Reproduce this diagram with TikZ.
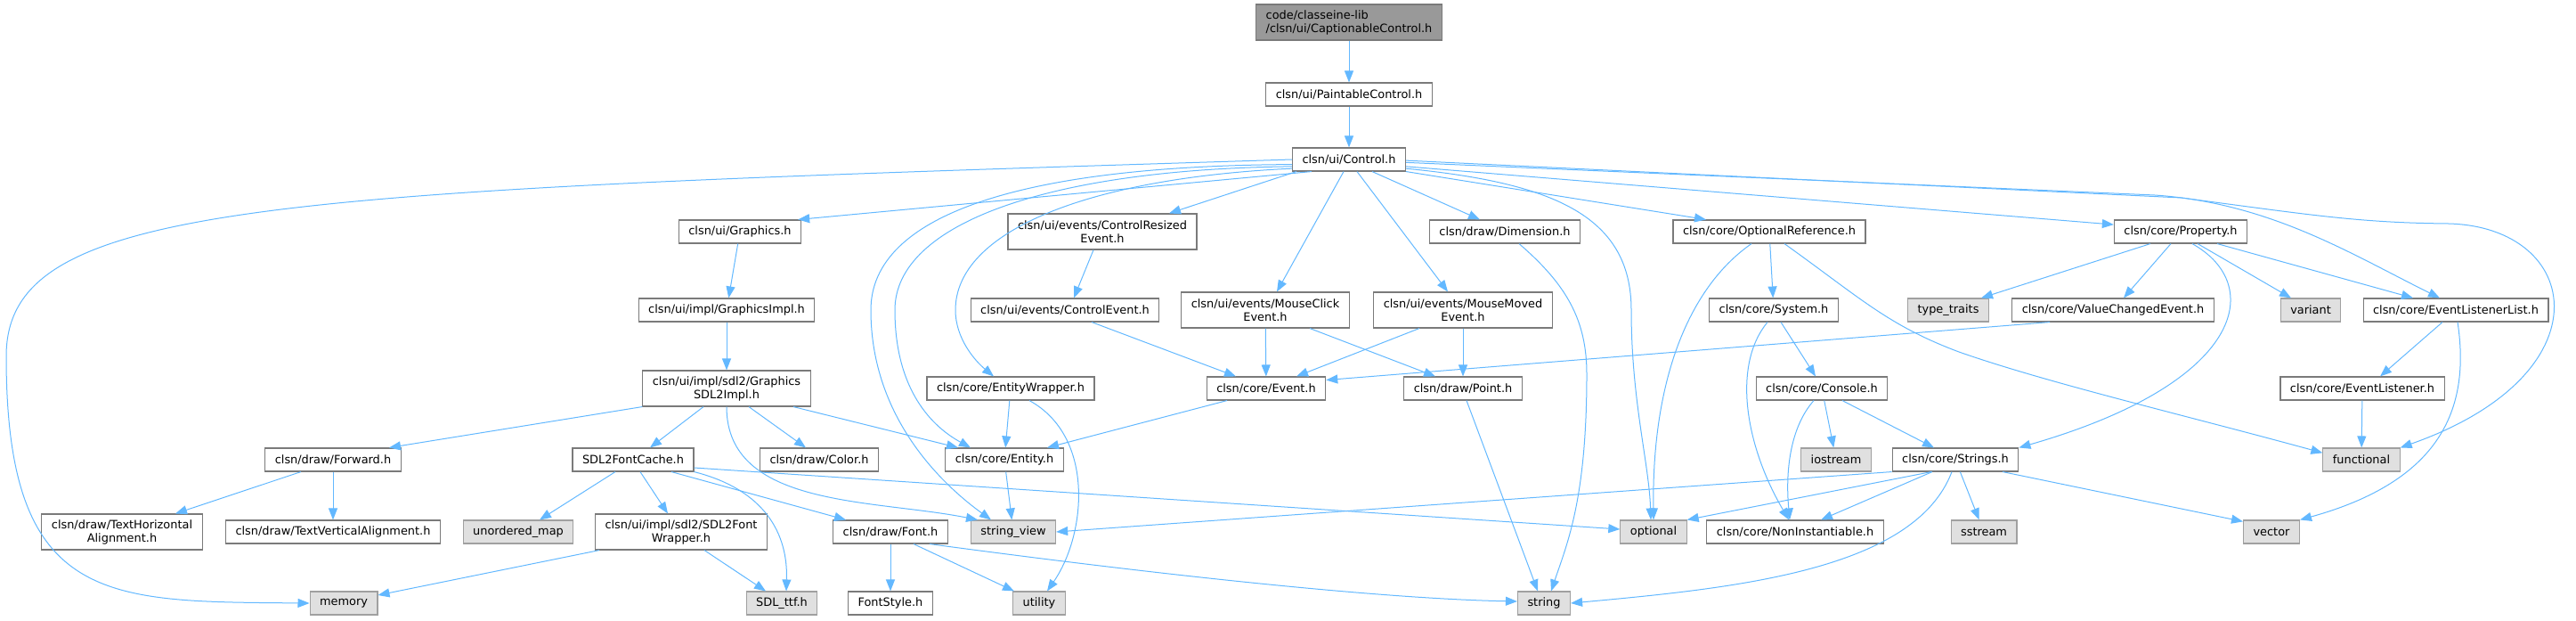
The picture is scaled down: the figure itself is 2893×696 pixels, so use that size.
\documentclass[tikz,border=0pt]{standalone}
\usepackage{fontspec}
\setmainfont{DejaVu Sans}
\usetikzlibrary{arrows.meta}
\definecolor{edgeblue}{HTML}{63B8FF}
\definecolor{boxline}{HTML}{7A7A7A}
\definecolor{extline}{HTML}{A0A0A0}
\definecolor{extfill}{HTML}{E0E0E0}
\definecolor{rootfill}{HTML}{999999}
\begin{document}
\begin{tikzpicture}[x=1pt, y=-1pt,
    hdr/.style={draw=boxline, fill=white, line width=1.1pt, font=\fontsize{12.9}{15}\selectfont,
        inner xsep=11pt, inner ysep=2pt, minimum height=26pt, align=center},
    hdr2/.style={hdr, minimum height=40pt},
    sys/.style={hdr, draw=extline, fill=extfill},
    rootbox/.style={hdr2, fill=rootfill, align=left},
    dep/.style={draw=edgeblue, line width=1pt, -{Triangle[length=13pt,width=10pt]}}]
    \useasboundingbox (0,0) rectangle (2893,696);

    % Draw Headers (top rows)
    \node[rootbox] (root) at (1515,25) {code/classeine-lib\\/clsn/ui/CaptionableControl.h};
    \node[hdr] (paint) at (1515,106) {clsn/ui/PaintableControl.h};
    \node[hdr] (ctrl) at (1515,179) {clsn/ui/Control.h};

    \node[hdr] (gfx) at (831,260) {clsn/ui/Graphics.h};
    \node[hdr2] (resized) at (1238,260) {clsn/ui/events/ControlResized\\Event.h};
    \node[hdr] (dim) at (1690,260) {clsn/draw/Dimension.h};
    \node[hdr] (optref) at (1987,260) {clsn/core/OptionalReference.h};
    \node[hdr] (prop) at (2449,260) {clsn/core/Property.h};

    \node[hdr] (gimpl) at (816,348) {clsn/ui/impl/GraphicsImpl.h};
    \node[hdr] (ctrlev) at (1196,348) {clsn/ui/events/ControlEvent.h};
    \node[hdr2] (click) at (1421,348) {clsn/ui/events/MouseClick\\Event.h};
    \node[hdr2] (moved) at (1643,348) {clsn/ui/events/MouseMoved\\Event.h};
    \node[hdr] (system) at (1992,348) {clsn/core/System.h};
    \node[sys] (typetr) at (2188,348) {type\_traits};
    \node[hdr] (valch) at (2373,348) {clsn/core/ValueChangedEvent.h};
    \node[sys] (variant) at (2595,348) {variant};
    \node[hdr] (evlist) at (2758,348) {clsn/core/EventListenerList.h};

    \node[hdr2] (sdlimpl) at (816,436) {clsn/ui/impl/sdl2/Graphics\\SDL2Impl.h};
    \node[hdr] (entwrap) at (1135,436) {clsn/core/EntityWrapper.h};
    \node[hdr] (event) at (1422,436) {clsn/core/Event.h};
    \node[hdr] (point) at (1643,436) {clsn/draw/Point.h};
    \node[hdr] (console) at (2046,436) {clsn/core/Console.h};
    \node[hdr] (evlisten) at (2653,436) {clsn/core/EventListener.h};

    % Draw Headers (bottom rows)
    \node[hdr] (fwd) at (374,516) {clsn/draw/Forward.h};
    \node[hdr] (fcache) at (711,516) {SDL2FontCache.h};
    \node[hdr] (color) at (920,516) {clsn/draw/Color.h};
    \node[hdr] (entity) at (1128,516) {clsn/core/Entity.h};
    \node[sys] (iostream) at (2062,516) {iostream};
    \node[hdr] (strings) at (2196,516) {clsn/core/Strings.h};
    \node[sys] (functional) at (2652,516) {functional};

    \node[hdr2] (halign) at (137,597) {clsn/draw/TextHorizontal\\Alignment.h};
    \node[hdr] (valign) at (374,597) {clsn/draw/TextVerticalAlignment.h};
    \node[sys] (umap) at (582,597) {unordered\_map};
    \node[hdr2] (fwrap) at (765,597) {clsn/ui/impl/sdl2/SDL2Font\\Wrapper.h};
    \node[hdr] (font) at (1000,597) {clsn/draw/Font.h};
    \node[sys] (strview) at (1138,597) {string\_view};
    \node[sys] (optional) at (1857,597) {optional};
    \node[hdr] (noninst) at (2016,597) {clsn/core/NonInstantiable.h};
    \node[sys] (sstream) at (2228,597) {sstream};
    \node[sys] (vector) at (2551,597) {vector};

    \node[sys] (memory) at (386,677) {memory};
    \node[sys] (sdlttf) at (878,677) {SDL\_ttf.h};
    \node[hdr] (fstyle) at (1000,677) {FontStyle.h};
    \node[sys] (utility) at (1167,677) {utility};
    \node[sys] (string) at (1734,677) {string};

    % Draw Control includes
    \draw[dep] (root) -- (paint);
    \draw[dep] (paint) -- (ctrl);
    \draw[dep] ([xshift=22pt]ctrl.south west) -- ([xshift=-4pt]gfx.north east);
    \draw[dep] ([xshift=5pt]ctrl.south west) -- ([xshift=75pt]resized.north);
    \draw[dep] ([xshift=-6pt]ctrl.south) -- ([xshift=13pt]click.north);
    \draw[dep] ([xshift=9pt]ctrl.south) -- ([xshift=-17pt]moved.north);
    \draw[dep] ([xshift=26pt]ctrl.south) -- ([xshift=-28pt]dim.north);
    \draw[dep] (ctrl.south east) -- ([xshift=-71pt]optref.north);
    \draw[dep] (ctrl.-7) -- (prop.174);
    \draw[dep] (ctrl.-3) -- (2420,219) .. controls (2550,228) and (2640,285) .. ([xshift=-18pt]evlist.north);
    \draw[dep] (ctrl.-1) -- (2450,222) .. controls (2600,242) and (2650,250) .. (2750,251)
        .. controls (2900,255) and (2930,420) .. (functional.north east);
    \draw[dep] (ctrl.-9) .. controls (1740,205) and (1832,240) .. (1832,348)
        .. controls (1832,450) and (1852,520) .. ([xshift=-3pt]optional.north);
    \draw[dep] (ctrl.west) .. controls (300,215) and (7,225) .. (7,400)
        .. controls (7,680) and (120,675) .. (memory.west);
    \draw[dep] (ctrl.185) .. controls (1150,186) and (978,240) .. (978,348)
        .. controls (978,470) and (1060,545) .. ([xshift=-25pt]strview.north);
    \draw[dep] (ctrl.187) .. controls (1180,190) and (1005,250) .. (1005,348)
        .. controls (1005,430) and (1040,475) .. ([xshift=-38pt]entity.north);
    \draw[dep] (ctrl.189) .. controls (1220,200) and (1073,260) .. (1073,348)
        .. controls (1073,380) and (1095,405) .. ([xshift=-19pt]entwrap.north);

    % Draw Graphics chain
    \draw[dep] (gfx) -- (gimpl);
    \draw[dep] (gimpl) -- (sdlimpl);
    \draw[dep] (sdlimpl.south west) -- ([xshift=63pt]fwd.north);
    \draw[dep] ([xshift=-26pt]sdlimpl.south) -- ([xshift=19pt]fcache.north);
    \draw[dep] ([xshift=25pt]sdlimpl.south) -- ([xshift=-15pt]color.north);
    \draw[dep] ([xshift=75pt]sdlimpl.south) -- ([xshift=-52pt]entity.north);
    \draw[dep] (sdlimpl.south) .. controls (816,570) and (980,560) .. ([xshift=-40pt]strview.north);
    \draw[dep] ([xshift=-36pt]fwd.south) -- ([xshift=60pt]halign.north);
    \draw[dep] (fwd) -- (valign);
    \draw[dep] ([xshift=-20pt]fcache.south) -- ([xshift=24pt]umap.north);
    \draw[dep] ([xshift=8pt]fcache.south) -- ([xshift=-15pt]fwrap.north);
    \draw[dep] ([xshift=43pt]fcache.south) -- ([xshift=-50pt]font.north);
    \draw[dep] (fcache.south east) .. controls (860,550) and (885,600) .. ([xshift=5pt]sdlttf.north);
    \draw[dep] ([yshift=-9pt]fcache.east) -- ([yshift=3pt]optional.west);
    \draw[dep] ([xshift=-92pt]fwrap.south) -- ([yshift=9pt]memory.east);
    \draw[dep] ([xshift=26pt]fwrap.south) -- ([xshift=-18pt]sdlttf.north);
    \draw[dep] (font) -- (fstyle);
    \draw[dep] ([xshift=26pt]font.south) -- ([xshift=-28pt]utility.north);
    \draw[dep] ([xshift=44pt]font.south) .. controls (1300,645) and (1550,672) .. ([yshift=2pt]string.west);

    % Draw Event chain
    \draw[dep] ([xshift=-10pt]resized.south) -- ([xshift=10pt]ctrlev.north);
    \draw[dep] ([xshift=30pt]ctrlev.south) -- ([xshift=-34pt]event.north);
    \draw[dep] (click) -- (event);
    \draw[dep] ([xshift=50pt]click.south) -- ([xshift=-31pt]point.north);
    \draw[dep] ([xshift=-49pt]moved.south) -- ([xshift=34pt]event.north);
    \draw[dep] (moved) -- (point);
    \draw[dep] ([xshift=-44pt]event.south) -- ([xshift=48pt]entity.north);
    \draw[dep] (entwrap) -- (entity);
    \draw[dep] ([xshift=21pt]entwrap.south) .. controls (1230,490) and (1220,600) .. ([xshift=9pt]utility.north);
    \draw[dep] (entity) -- (strview);
    \draw[dep] ([xshift=16pt]dim.south) .. controls (1760,320) and (1782,360) .. (1782,420)
        .. controls (1782,560) and (1760,610) .. ([xshift=8pt]string.north);
    \draw[dep] ([xshift=4pt]point.south) -- ([xshift=-7pt]string.north);

    % Draw core includes
    \draw[dep] (optref) -- (system);
    \draw[dep] ([xshift=-20pt]optref.south) .. controls (1900,320) and (1855,420) .. (optional.north);
    \draw[dep] ([xshift=17pt]optref.south) .. controls (2090,335) and (2120,365) .. (2200,395)
        .. controls (2300,430) and (2450,465) .. (functional.170);
    \draw[dep] ([xshift=-34pt]prop.south) -- ([xshift=37pt]typetr.north);
    \draw[dep] ([xshift=-11pt]prop.south) -- ([xshift=12pt]valch.north);
    \draw[dep] ([xshift=13pt]prop.south) .. controls (2545,320) and (2520,430) .. (strings.north east);
    \draw[dep] ([xshift=19pt]prop.south) -- ([xshift=-22pt]variant.north);
    \draw[dep] ([xshift=41pt]prop.south) -- ([xshift=-48pt]evlist.north);
    \draw[dep] ([xshift=-71pt]valch.south) -- (event.8);
    \draw[dep] ([xshift=8pt]system.south) -- ([xshift=-7pt]console.north);
    \draw[dep] ([xshift=-7pt]system.south) .. controls (1945,410) and (1960,500) .. ([xshift=-7pt]noninst.north);
    \draw[dep] (console) -- (iostream);
    \draw[dep] ([xshift=-9pt]console.south) .. controls (2010,480) and (2005,530) .. ([xshift=-6pt]noninst.north);
    \draw[dep] ([xshift=23pt]console.south) -- ([xshift=-24pt]strings.north);
    \draw[dep] (strings.south west) -- (strview.east);
    \draw[dep] ([xshift=-27pt]strings.south) -- (optional.north east);
    \draw[dep] ([xshift=-26pt]strings.south) -- ([xshift=29pt]noninst.north);
    \draw[dep] (strings) -- (sstream);
    \draw[dep] ([xshift=53pt]strings.south) -- (vector.160);
    \draw[dep] ([xshift=-4pt]strings.south) .. controls (2150,640) and (1950,660) .. (string.east);
    \draw[dep] ([xshift=-15pt]evlist.south) -- ([xshift=20pt]evlisten.north);
    \draw[dep] ([xshift=2pt]evlist.south) .. controls (2775,460) and (2740,540) .. (vector.north east);
    \draw[dep] (evlisten) -- (functional);

\end{tikzpicture}
\end{document}
